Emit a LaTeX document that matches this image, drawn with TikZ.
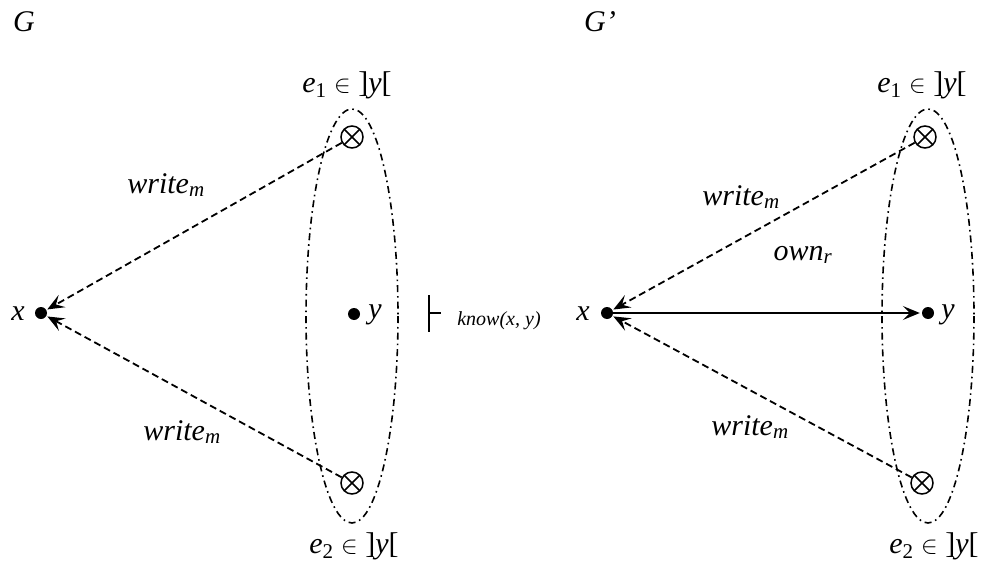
\documentclass[tikz,border=0pt]{standalone}
\usepackage{fontspec}
\setmainfont{Liberation Serif}
\usetikzlibrary{arrows.meta,shapes.geometric}
\begin{document}
\begin{tikzpicture}[x=1pt,y=-1pt,
  lbl/.style={font=\fontsize{30}{35}\selectfont\itshape, inner sep=0pt},
  dotnode/.style={circle, fill=black, inner sep=0pt, minimum size=12pt},
  otnode/.style={circle, draw, line width=1.5pt, inner sep=0pt, minimum size=22pt,
    path picture={\draw[line width=1.5pt] (path picture bounding box.north west) -- (path picture bounding box.south east)
      (path picture bounding box.north east) -- (path picture bounding box.south west);}},
  wr/.style={dash pattern=on 7pt off 4pt, line width=1.8pt, -{Stealth[length=17pt,width=14pt,inset=7pt]}, shorten >=1pt},
  solidarr/.style={line width=1.8pt, -{Stealth[length=17pt,width=14pt,inset=7pt]}, shorten >=2pt},
  ell/.style={draw, line width=1.6pt, dash pattern=on 7pt off 4pt on 1.6pt off 4pt}
]
\useasboundingbox (0,0) rectangle (990,567);
% ---------- left graph G ----------
\node[lbl] (G) at (24,22) {G};
\draw[ell] (352,316) ellipse [x radius=46, y radius=207];
\node[dotnode] (x1) at (41,313) {};
\node[lbl] (x1l) at (18,314) {x};
\node[dotnode] (y1) at (354,314) {};
\node[lbl] (y1l) at (375,315) {y};
\node[otnode] (t1) at (352,137) {};
\node[otnode] (b1) at (352,483) {};
\node[lbl] (e1) at (347,85) {e\textsubscript{\upshape 1} {\upshape$\in$} {\upshape]}y{\upshape[}};
\node[lbl] (e2) at (354,546) {e\textsubscript{\upshape 2} {\upshape$\in$} {\upshape]}y{\upshape[}};
\draw[wr] (t1) -- (x1);
\draw[wr] (b1) -- (x1);
\node[lbl] (w1) at (166,185) {write\textsubscript{m}};
\node[lbl] (w2) at (182,432) {write\textsubscript{m}};
% turnstile
\coordinate (ta) at (429,295);
\coordinate (tb) at (429,332);
\coordinate (tc) at (429,313);
\coordinate (td) at (441,313);
\draw[line width=2.8pt] (ta) -- (tb);
\draw[line width=1.8pt] (tc) -- (td);
\node[lbl, font=\fontsize{20}{24}\selectfont\itshape] (know) at (499,321) {know(x, y)};
% ---------- right graph G' ----------
\node[lbl] (G2) at (600,22) {G’};
\draw[ell] (928,316) ellipse [x radius=46, y radius=207];
\node[dotnode] (x2) at (607,313) {};
\node[lbl] (x2l) at (583,314) {x};
\node[dotnode] (y2) at (928,313) {};
\node[lbl] (y2l) at (948,315) {y};
\node[otnode] (t2) at (925,137) {};
\node[otnode] (b2) at (922,483) {};
\node[lbl] (e3) at (922,85) {e\textsubscript{\upshape 1} {\upshape$\in$} {\upshape]}y{\upshape[}};
\node[lbl] (e4) at (934,546) {e\textsubscript{\upshape 2} {\upshape$\in$} {\upshape]}y{\upshape[}};
\draw[wr] (t2) -- (x2);
\draw[wr] (b2) -- (x2);
\draw[solidarr] (x2) -- (y2);
\node[lbl] (w3) at (741,197) {write\textsubscript{m}};
\node[lbl] (w4) at (750,427) {write\textsubscript{m}};
\node[lbl] (own) at (803,255) {own\textsubscript{r}};
\end{tikzpicture}
\end{document}
